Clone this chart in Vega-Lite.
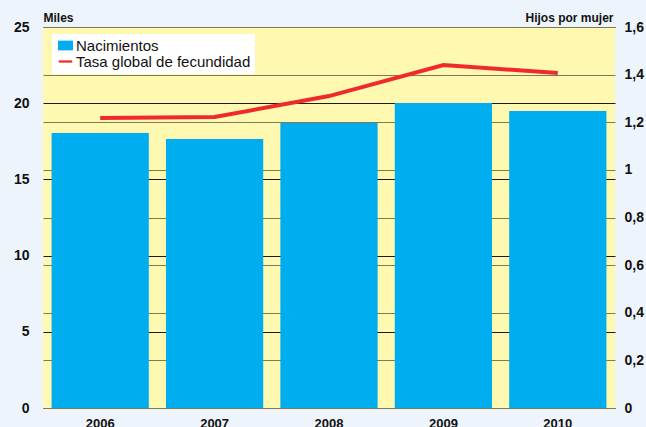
{
  "$schema": "https://vega.github.io/schema/vega-lite/v6.json",
  "width": 572,
  "height": 381,
  "autosize": {"type": "none"},
  "padding": {"left": 43, "top": 27, "right": 31, "bottom": 19},
  "background": "#EEF4FB",
  "config": {
    "font": "Liberation Sans",
    "view": {"fill": "#FFF8B0", "stroke": null}
  },
  "data": {
    "values": [
      {"year": "2006", "births": 18.04, "tfr": 1.218},
      {"year": "2007", "births": 17.65, "tfr": 1.222},
      {"year": "2008", "births": 18.7, "tfr": 1.31},
      {"year": "2009", "births": 20.01, "tfr": 1.44},
      {"year": "2010", "births": 19.49, "tfr": 1.407}
    ]
  },
  "encoding": {
    "x": {
      "field": "year",
      "type": "ordinal",
      "scale": {"paddingInner": 0.15, "paddingOuter": 0.075},
      "axis": {
        "title": null,
        "domain": false,
        "ticks": false,
        "grid": false,
        "labelAngle": 0,
        "labelFontSize": 13,
        "labelFontWeight": "bold",
        "labelColor": "#111",
        "labelPadding": 9
      }
    }
  },
  "layer": [
    {
      "mark": {"type": "bar", "fill": "#00ADEE"},
      "encoding": {
        "y": {
          "field": "births",
          "type": "quantitative",
          "scale": {"domain": [0, 25], "nice": false},
          "axis": {
            "orient": "left",
            "values": [0, 5, 10, 15, 20, 25],
            "title": "Miles",
            "titleAngle": 0,
            "titleX": 0,
            "titleY": -3,
            "titleAlign": "left",
            "titleBaseline": "bottom",
            "titleFontSize": 12,
            "titleFontWeight": "bold",
            "titleColor": "#111",
            "domain": false,
            "ticks": false,
            "grid": true,
            "gridColor": "#1a1a1a",
            "gridWidth": 1,
            "gridOpacity": 1,
            "labelFontSize": 14,
            "labelFontWeight": "bold",
            "labelColor": "#111",
            "labelPadding": 14
          }
        },
        "color": {
          "datum": "Nacimientos",
          "type": "nominal",
          "scale": {"domain": ["Nacimientos", "Tasa global de fecundidad"], "range": ["#00ADEE", "#EE2A2A"]},
          "legend": {
            "title": null,
            "orient": "none",
            "legendX": 9,
            "legendY": 7,
            "fillColor": "white",
            "padding": 4,
            "symbolOffset": 2,
            "rowPadding": 0,
            "labelFontSize": 15,
            "labelColor": "#111",
            "labelOffset": 3,
            "symbolSize": 225,
            "symbolStrokeWidth": 0,
            "labelLimit": 300,
            "encode": {
              "symbols": {
                "update": {
                  "shape": {"signal": "datum.label == 'Nacimientos' ? 'M-1,-0.65H1V0.65H-1Z' : 'M-0.9,-0.15H0.9V0.15H-0.9Z'"},
                  "fill": {"signal": "datum.label == 'Nacimientos' ? '#00ADEE' : '#EE2A2A'"},
                  "stroke": {"value": "transparent"},
                  "strokeWidth": {"value": 0},
                  "opacity": {"value": 1}
                }
              }
            }
          }
        }
      }
    },
    {
      "mark": {"type": "line", "stroke": "#EE2A2A", "strokeWidth": 4, "strokeCap": "butt"},
      "encoding": {
        "y": {
          "field": "tfr",
          "type": "quantitative",
          "scale": {"domain": [0, 1.6], "nice": false},
          "axis": {
            "orient": "right",
            "values": [0, 0.2, 0.4, 0.6, 0.8, 1, 1.2, 1.4, 1.6],
            "labelExpr": "replace(format(datum.value, '~g'), '.', ',')",
            "title": "Hijos por mujer",
            "titleAngle": 0,
            "titleX": -2,
            "titleY": -3,
            "titleAlign": "right",
            "titleBaseline": "bottom",
            "titleFontSize": 12,
            "titleFontWeight": "bold",
            "titleColor": "#111",
            "domain": false,
            "ticks": false,
            "grid": true,
            "gridColor": "#7d7b55",
            "gridWidth": 1,
            "gridOpacity": 1,
            "labelFontSize": 14,
            "labelFontWeight": "bold",
            "labelColor": "#111",
            "labelPadding": 9
          }
        },
        "color": {"datum": "Tasa global de fecundidad", "type": "nominal"}
      }
    }
  ],
  "resolve": {"scale": {"y": "independent"}}
}
